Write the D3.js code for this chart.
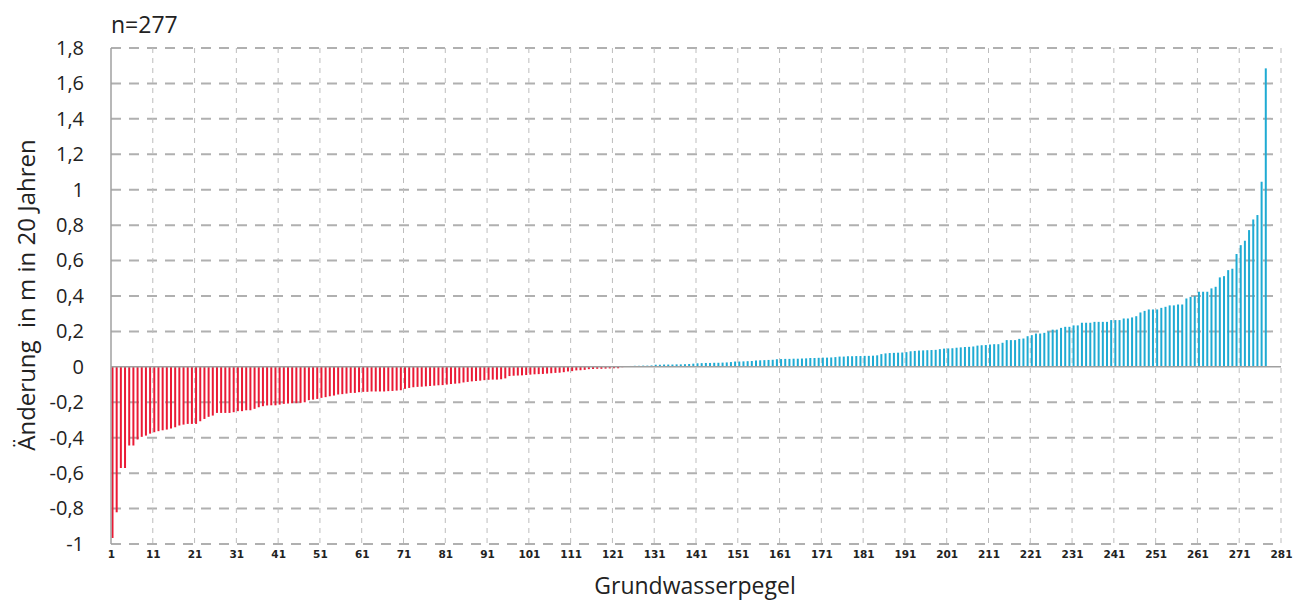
<!DOCTYPE html>
<html>
<head>
<meta charset="utf-8">
<script src="https://cdn.jsdelivr.net/npm/d3@7"></script>
<style>
    body { margin: 0; background: #fff; }
    svg { display: block; }
</style>
</head>
<body>
<div id="chart"></div>
<script>
// changes per well, sorted ascending
const falling = [
    -0.966, -0.821, -0.571, -0.571, -0.444, -0.444, -0.41, -0.395, -0.388, -0.377,
    -0.369, -0.363, -0.358, -0.354, -0.348, -0.341, -0.331, -0.326, -0.322, -0.322,
    -0.322, -0.307, -0.294, -0.282, -0.275, -0.26, -0.26, -0.26, -0.26, -0.256,
    -0.25, -0.25, -0.245, -0.245, -0.237, -0.228, -0.222, -0.218, -0.217, -0.217,
    -0.213, -0.209, -0.207, -0.205, -0.205, -0.203, -0.2, -0.188, -0.185, -0.181,
    -0.175, -0.171, -0.166, -0.162, -0.156, -0.154, -0.151, -0.147, -0.147, -0.143,
    -0.141, -0.141, -0.139, -0.139, -0.139, -0.139, -0.137, -0.136, -0.134, -0.132,
    -0.124, -0.119, -0.115, -0.113, -0.112, -0.11, -0.108, -0.106, -0.104, -0.103,
    -0.1, -0.097, -0.095, -0.093, -0.088, -0.085, -0.082, -0.08, -0.078, -0.075,
    -0.073, -0.072, -0.072, -0.07, -0.065, -0.052, -0.05, -0.049, -0.048, -0.046,
    -0.044, -0.042, -0.041, -0.04, -0.038, -0.036, -0.034, -0.033, -0.03, -0.026,
    -0.024, -0.02, -0.019, -0.017, -0.013, -0.012, -0.011, -0.011, -0.01, -0.009,
    -0.008, -0.008, -0.002
];
const rising = [
    0.002, 0.005, 0.006, 0.006, 0.007, 0.007, 0.008,
    0.012, 0.012, 0.013, 0.013, 0.013, 0.014, 0.014, 0.015, 0.016, 0.018,
    0.02, 0.021, 0.022, 0.022, 0.023, 0.023, 0.024, 0.025, 0.027, 0.03,
    0.03, 0.031, 0.032, 0.033, 0.036, 0.037, 0.038, 0.039, 0.04, 0.043,
    0.044, 0.045, 0.045, 0.046, 0.046, 0.047, 0.048, 0.05, 0.05, 0.051,
    0.052, 0.052, 0.053, 0.055, 0.058, 0.058, 0.06, 0.06, 0.061, 0.061,
    0.062, 0.062, 0.063, 0.065, 0.072, 0.076, 0.078, 0.079, 0.08, 0.081,
    0.083, 0.088, 0.09, 0.092, 0.093, 0.094, 0.095, 0.096, 0.1, 0.103,
    0.104, 0.105, 0.108, 0.11, 0.112, 0.113, 0.115, 0.12, 0.122, 0.123,
    0.126, 0.128, 0.128, 0.136, 0.151, 0.151, 0.151, 0.158, 0.16, 0.173,
    0.179, 0.188, 0.188, 0.192, 0.2, 0.21, 0.21, 0.22, 0.226, 0.226,
    0.234, 0.234, 0.249, 0.249, 0.249, 0.254, 0.254, 0.254, 0.254, 0.264,
    0.264, 0.264, 0.273, 0.273, 0.279, 0.286, 0.307, 0.316, 0.324, 0.324,
    0.324, 0.333, 0.339, 0.347, 0.347, 0.352, 0.352, 0.386, 0.395, 0.399,
    0.424, 0.424, 0.424, 0.443, 0.452, 0.505, 0.512, 0.546, 0.554, 0.637,
    0.687, 0.712, 0.772, 0.832, 0.857, 1.045, 1.685
];
const xTicks = d3.range(1, 282, 10);
const yTicks = [-1, -0.8, -0.6, -0.4, -0.2, 0, 0.2, 0.4, 0.6, 0.8, 1, 1.2, 1.4, 1.6, 1.8];

const values = falling.concat(rising).map((v, i) => ({ pegel: i + 1, value: v }));

// dimensions
const width = 1301;
const height = 601;
const plotLeft = 111, plotRight = 1281, plotTop = 48, plotBottom = 544;

const svg = d3.select("#chart")
    .append("svg")
    .attr("width", width)
    .attr("height", height);

const x = d3.scaleLinear().domain([1, 281]).range([plotLeft, plotRight]);
const y = d3.scaleLinear().domain([-1, 1.8]).range([plotBottom, plotTop]);

const fmt = d => String(d).replace(".", ",");

// horizontal grid
svg.append("g")
    .selectAll("line")
    .data(yTicks.filter(d => d !== 0))
    .enter().append("line")
    .attr("x1", plotLeft).attr("x2", plotRight)
    .attr("y1", d => y(d)).attr("y2", d => y(d))
    .attr("stroke", "#b0b0b0")
    .attr("stroke-width", 2)
    .attr("stroke-dasharray", "10,8");

// vertical grid
svg.append("g")
    .selectAll("line")
    .data(xTicks.filter(d => d !== 1))
    .enter().append("line")
    .attr("x1", d => x(d)).attr("x2", d => x(d))
    .attr("y1", plotTop).attr("y2", plotBottom)
    .attr("stroke", "#bdbdbd")
    .attr("stroke-width", 1)
    .attr("stroke-dasharray", "5,5");

// bars
svg.append("g")
    .selectAll("rect")
    .data(values)
    .enter().append("rect")
    .attr("x", d => x(d.pegel) + 0.5)
    .attr("width", 2)
    .attr("y", d => Math.min(y(d.value), y(0)))
    .attr("height", d => Math.abs(y(d.value) - y(0)))
    .attr("fill", d => d.value < 0 ? "#ea1a35" : "#1fabd3");

// zero line and left axis line
svg.append("line")
    .attr("x1", plotLeft).attr("x2", plotRight)
    .attr("y1", y(0)).attr("y2", y(0))
    .attr("stroke", "#a0a0a0")
    .attr("stroke-width", 1.5);
svg.append("line")
    .attr("x1", plotLeft).attr("x2", plotLeft)
    .attr("y1", plotTop).attr("y2", plotBottom)
    .attr("stroke", "#a0a0a0")
    .attr("stroke-width", 1.5);

// y axis labels
const yAxis = svg.append("g")
    .attr("transform", `translate(${plotLeft - 24},0)`)
    .call(d3.axisLeft(y).tickValues(yTicks).tickFormat(fmt).tickSize(0));
yAxis.select(".domain").remove();
yAxis.selectAll("text")
    .attr("font-family", "Open Sans, sans-serif")
    .attr("font-size", "20px")
    .attr("fill", "#222");

// x axis labels
const xAxis = svg.append("g")
    .attr("transform", `translate(0,${plotBottom + 4})`)
    .call(d3.axisBottom(x).tickValues(xTicks).tickFormat(d3.format("d")).tickSize(0));
xAxis.select(".domain").remove();
xAxis.selectAll("text")
    .attr("font-family", "DejaVu Sans, sans-serif")
    .attr("font-weight", "bold")
    .attr("font-size", "10.5px")
    .attr("fill", "#222");

// titles
svg.append("text")
    .attr("x", 111).attr("y", 33)
    .attr("font-family", "Open Sans, sans-serif")
    .attr("font-size", "23px")
    .attr("fill", "#222")
    .text("n=277");

svg.append("text")
    .attr("transform", "translate(35,295) rotate(-90)")
    .attr("text-anchor", "middle")
    .attr("font-family", "Open Sans, sans-serif")
    .attr("font-size", "24px")
    .attr("fill", "#222")
    .style("white-space", "pre")
    .text("Änderung  in m in 20 Jahren");

svg.append("text")
    .attr("x", 695).attr("y", 594)
    .attr("text-anchor", "middle")
    .attr("font-family", "Open Sans, sans-serif")
    .attr("font-size", "23px")
    .attr("fill", "#222")
    .text("Grundwasserpegel");
</script>
</body>
</html>
